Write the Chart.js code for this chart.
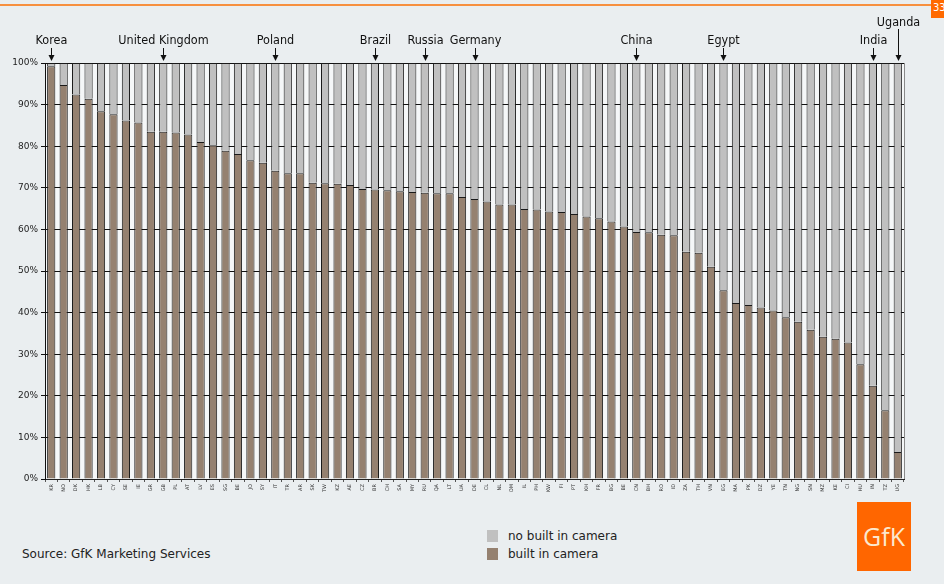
<!DOCTYPE html>
<html>
<head>
<meta charset="utf-8">
<script src="https://cdn.jsdelivr.net/npm/chart.js@4.4.1/dist/chart.umd.min.js"></script>
<style>
  html, body { margin: 0; padding: 0; }
  body { width: 944px; height: 584px; background: #eaeef0; position: relative; overflow: hidden; font-family: "DejaVu Sans", sans-serif; }
  #topline { position: absolute; left: 0; top: 4px; width: 931px; height: 2px; background: #f7903f; }
  #pageno { position: absolute; left: 931px; top: 0; width: 20px; height: 18px; background: #ff6a00; color: #fff; font-size: 10px; line-height: 16px; padding-left: 2px; }
  #wrap { position: absolute; left: 0; top: 0; width: 944px; height: 505px; }
  #source { position: absolute; left: 22px; top: 547px; font-size: 12px; color: #222; }
  #legend { position: absolute; left: 487px; top: 529px; font-size: 12px; color: #222; }
  .item { height: 18px; line-height: 15px; }
  .sw { display: inline-block; width: 11px; height: 12px; margin-right: 10px; vertical-align: -2px; }
  #logo { position: absolute; left: 857px; top: 502px; width: 54px; height: 69px; background: #ff6600; color: #fbe9cf; font-family: "Open Sans", sans-serif; font-size: 25px; line-height: 69px; text-align: center; }
</style>
</head>
<body>
<div id="topline"></div>
<div id="pageno">33</div>
<div id="wrap"><canvas id="cameraChart"></canvas></div>
<div id="source">Source: GfK Marketing Services</div>
<div id="legend">
  <div class="item"><span class="sw" style="background:#c0c0c0"></span>no built in camera</div>
  <div class="item"><span class="sw" style="background:#958170"></span>built in camera</div>
</div>
<div id="logo">GfK</div>
<script>
const countries = ['KR','NO','DK','HK','LB','CY','SE','IE','GR','GB','PL','AT','LV','ES','SG','BE','JO','SY','IT','TR',
    'AR','SK','TW','KZ','AE','CZ','BR','CH','SA','MY','RU','QA','LT','UA','DE','CL','NL','OM','IL','PH',
    'KW','FI','PT','KH','FR','BG','BE','CN','BH','RO','ID','ZA','TH','VN','EG','MA','PK','DZ','YE','TN',
    'NG','SN','MZ','KE','CI','HU','IN','TZ','UG'];

// share of phones with a built in camera (%)
const builtIn = [99.2, 94.7, 92.4, 91.4, 88.4, 87.7, 86.2, 85.7, 83.5, 83.5, 83.3, 82.8, 81.0, 80.2, 78.9, 78.1, 76.6, 76.0, 74.1, 73.5,
    73.5, 71.2, 71.1, 71.0, 70.7, 69.7, 69.6, 69.4, 69.2, 69.0, 68.8, 68.7, 68.7, 67.8, 67.3, 66.7, 66.0, 66.0, 64.9, 64.8,
    64.3, 64.2, 63.7, 63.1, 62.7, 61.9, 60.7, 59.4, 59.3, 58.7, 58.6, 54.6, 54.4, 51.0, 45.4, 42.3, 41.8, 41.2, 40.5, 38.9,
    37.8, 35.9, 34.2, 33.7, 32.8, 27.6, 22.4, 16.5, 6.5];
const noBuiltIn = builtIn.map(v => +(100 - v).toFixed(1));

// country call-outs: [label, index of bar the arrow points at, raised]
const callouts = [
    ['Korea', 0, false], ['United Kingdom', 9, false], ['Poland', 18, false], ['Brazil', 26, false],
    ['Russia', 30, false], ['Germany', 34, false], ['China', 47, false], ['Egypt', 54, false],
    ['India', 66, false], ['Uganda', 68, true]
];

const plotBg = {
    id: 'plotBg',
    beforeDraw(chart) {
        const { ctx, chartArea: a } = chart;
        ctx.save();
        ctx.fillStyle = '#f5f7f8';
        ctx.fillRect(a.left, a.top, a.right - a.left, a.bottom - a.top);
        ctx.restore();
    },
    afterDraw(chart) {
        const { ctx, chartArea: a } = chart;
        ctx.save();
        ctx.strokeStyle = '#8a8a8a';
        ctx.lineWidth = 1;
        ctx.beginPath();
        ctx.moveTo(a.right + 0.5, a.top);
        ctx.lineTo(a.right + 0.5, a.bottom);
        ctx.stroke();
        ctx.restore();
    }
};

const arrows = {
    id: 'arrows',
    afterDraw(chart) {
        const { ctx, chartArea: a } = chart;
        const x = chart.scales.x;
        ctx.save();
        ctx.fillStyle = '#111';
        ctx.strokeStyle = '#111';
        ctx.font = "12.5px 'Liberation Sans Narrow', 'DejaVu Sans Condensed', sans-serif";
        ctx.textAlign = 'center';
        ctx.textBaseline = 'alphabetic';
        callouts.forEach(([name, idx, raised]) => {
            const px = Math.round(x.getPixelForValue(idx)) + 0.5;
            const textY = raised ? 26 : 44;
            const lineTop = raised ? 29 : 48;
            ctx.fillText(name, px, textY);
            ctx.lineWidth = 1;
            ctx.beginPath();
            ctx.moveTo(px, lineTop);
            ctx.lineTo(px, a.top - 6);
            ctx.stroke();
            ctx.beginPath();
            ctx.moveTo(px - 3, a.top - 8);
            ctx.lineTo(px + 3, a.top - 8);
            ctx.lineTo(px, a.top - 2);
            ctx.closePath();
            ctx.fill();
        });
        ctx.restore();
    }
};

const ctx = document.getElementById('cameraChart').getContext('2d');
const cameraChart = new Chart(ctx, {
    type: 'bar',
    data: {
        labels: countries,
        datasets: [
            { label: 'built in camera', data: builtIn, backgroundColor: '#958170', borderColor: '#1a1a1a', borderWidth: 1 },
            { label: 'no built in camera', data: noBuiltIn, backgroundColor: '#c0c0c0', borderColor: '#1a1a1a', borderWidth: 1 }
        ]
    },
    options: {
        responsive: true, maintainAspectRatio: false,
        animation: false,
        layout: { padding: { top: 63, right: 40, left: 0, bottom: 0 } },
        datasets: { bar: { barPercentage: 0.66, categoryPercentage: 1 } },
        plugins: { legend: { display: false }, tooltip: { enabled: false } },
        scales: {
            x: {
                stacked: true,
                afterFit: s => { s.height = 26; },
                grid: { offset: true, drawOnChartArea: false, color: '#555', tickLength: 3 },
                border: { color: '#222' },
                ticks: { autoSkip: false, maxRotation: 90, minRotation: 90, padding: 2, color: '#333', font: { size: 5, family: 'DejaVu Sans' } }
            },
            y: {
                stacked: true, min: 0, max: 100,
                afterFit: s => { s.width = 45; },
                grid: { color: '#111', lineWidth: 1, tickLength: 4 },
                border: { color: '#111' },
                ticks: { stepSize: 10, padding: 3, color: '#222', font: { size: 9, family: 'DejaVu Sans' }, callback: v => v + '%' }
            }
        }
    },
    plugins: [plotBg, arrows]
});
</script>
</body>
</html>
